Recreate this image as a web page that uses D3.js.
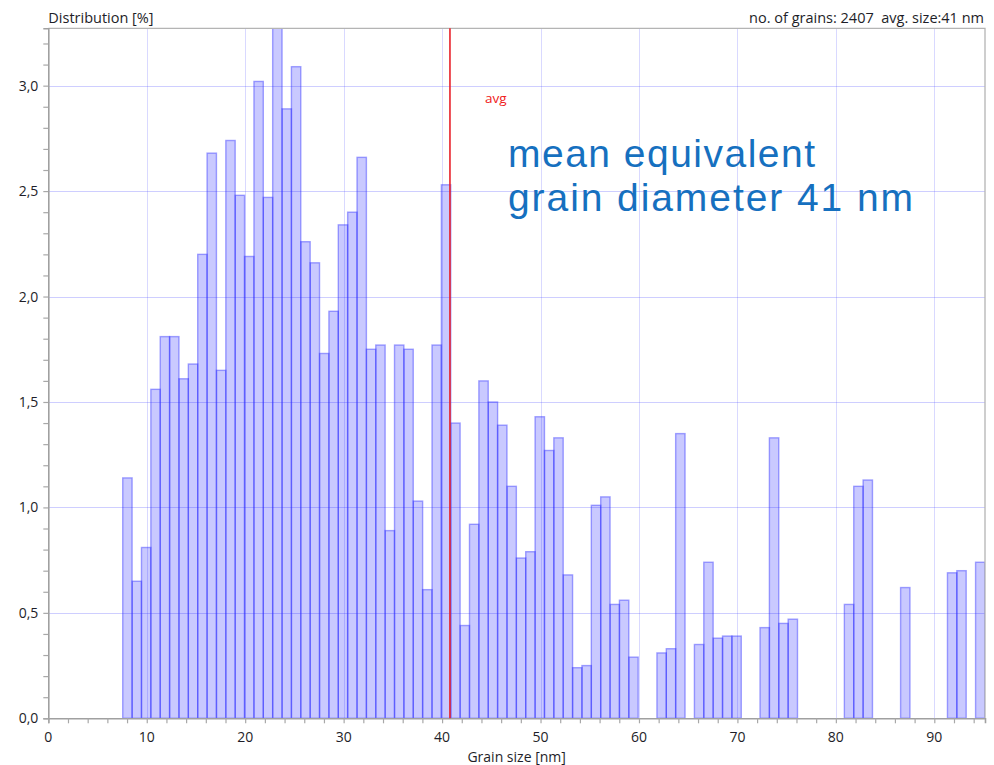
<!DOCTYPE html>
<html>
<head>
<meta charset="utf-8">
<script src="https://cdn.jsdelivr.net/npm/d3@7"></script>
<style>
  html, body { margin: 0; padding: 0; background: #fff; }
  svg { display: block; }
  text { font-family: "Open Sans", "DejaVu Sans", sans-serif; }
  text.note, text.note tspan { font-family: "Liberation Sans", Arial, sans-serif; }
</style>
</head>
<body>
<svg id="chart" width="994" height="765"></svg>
<script>
// ---- data ----
const binStart = 7.56;        // lower edge of first bin [nm]
const binWidth = 0.952;       // bin width [nm]
const distribution = [
  1.14, 0.65, 0.81, 1.56, 1.81, 1.81, 1.61, 1.68, 2.20, 2.68,
  1.65, 2.74, 2.48, 2.19, 3.02, 2.47, 3.28, 2.89, 3.09, 2.26,
  2.16, 1.73, 1.93, 2.34, 2.40, 2.66, 1.75, 1.77, 0.89, 1.77,
  1.75, 1.03, 0.61, 1.77, 2.53, 1.40, 0.44, 0.92, 1.60, 1.50,
  1.39, 1.10, 0.76, 0.79, 1.43, 1.27, 1.33, 0.68, 0.24, 0.25,
  1.01, 1.05, 0.54, 0.56, 0.29, 0, 0, 0.31, 0.33, 1.35,
  0, 0.35, 0.74, 0.38, 0.39, 0.39, 0, 0, 0.43, 1.33,
  0.45, 0.47, 0, 0, 0, 0, 0, 0.54, 1.10, 1.13,
  0, 0, 0, 0.62, 0, 0, 0, 0, 0.69, 0.70,
  0, 0.74
];
const avgSize = 40.8;
const xTicks = [0, 10, 20, 30, 40, 50, 60, 70, 80, 90];
const yTicks = [0, 0.5, 1.0, 1.5, 2.0, 2.5, 3.0];
const xMax = 95.15;
const yMax = 3.272;
const yLabel = "Distribution [%]";
const xLabel = "Grain size [nm]";
const infoText = "no. of grains: 2407  avg. size:41 nm";
const avgLabel = "avg";
const noteLines = ["mean equivalent", "grain diameter 41 nm"];

// ---- layout ----
const L = 48.3, R = 985, T = 28.3, B = 718.3;
const svg = d3.select("#chart");
const x = d3.scaleLinear().domain([0, xMax]).range([L, R]);
const y = d3.scaleLinear().domain([0, yMax]).range([B, T]);
const fmt = v => d3.format(".1f")(v).replace(".", ",");

svg.append("defs").append("clipPath").attr("id", "plotclip")
  .append("rect").attr("x", L).attr("y", T).attr("width", R - L).attr("height", B - T);

// gridlines
const grid = svg.append("g");
grid.selectAll("line.vg").data(xTicks.filter(d => d > 0)).join("line")
  .attr("x1", d => Math.round(x(d)) + 0.5).attr("x2", d => Math.round(x(d)) + 0.5)
  .attr("y1", T).attr("y2", B)
  .attr("stroke", "rgba(80,80,255,0.22)").attr("stroke-width", 1);
grid.selectAll("line.hg").data(yTicks.filter(d => d > 0)).join("line")
  .attr("x1", L).attr("x2", R)
  .attr("y1", d => Math.round(y(d)) + 0.5).attr("y2", d => Math.round(y(d)) + 0.5)
  .attr("stroke", "rgba(80,80,255,0.28)").attr("stroke-width", 1);

// bars
const bins = distribution.map((v, i) => ({ x0: binStart + i * binWidth, x1: binStart + (i + 1) * binWidth, v }));
svg.append("g").attr("clip-path", "url(#plotclip)")
  .selectAll("rect").data(bins.filter(d => d.v > 0)).join("rect")
  .attr("x", d => x(d.x0))
  .attr("y", d => y(d.v))
  .attr("width", d => x(d.x1) - x(d.x0))
  .attr("height", d => y(0) - y(d.v))
  .attr("fill", "rgba(0,0,255,0.21)")
  .attr("stroke", "rgba(40,40,255,0.42)")
  .attr("stroke-width", 1.4);

// frame (top & right)
svg.append("path")
  .attr("d", `M${L},${T}H${R}V${B}`)
  .attr("fill", "none").attr("stroke", "#b4b4b4").attr("stroke-width", 1.3);

// axes
const yAxis = d3.axisLeft(y).tickValues(d3.range(0, yMax + 1e-9, 0.1)).tickSize(5).tickFormat(() => "");
const yg = svg.append("g").attr("transform", `translate(${L},0)`).call(yAxis);
const xAxis = d3.axisBottom(x).tickValues(d3.range(0, xMax, 2)).tickSize(5).tickFormat(() => "");
const xg = svg.append("g").attr("transform", `translate(0,${B})`).call(xAxis);
[yg, xg].forEach(g => {
  g.select(".domain").attr("stroke", "#a0a0a0").attr("stroke-width", 1.6);
  g.selectAll(".tick line").attr("stroke", "#a8a8a8").attr("stroke-width", 1.2);
});
// y labels
svg.append("g").selectAll("text").data(yTicks).join("text")
  .attr("x", L - 10).attr("y", d => y(d) + 5)
  .attr("text-anchor", "end").attr("font-size", 14).attr("fill", "#1e1e28")
  .text(fmt);
// x labels
svg.append("g").selectAll("text").data(xTicks).join("text")
  .attr("x", d => x(d)).attr("y", 742)
  .attr("text-anchor", "middle").attr("font-size", 14).attr("fill", "#1e1e28")
  .text(d => d);

svg.append("text").attr("x", (L + R) / 2).attr("y", 762)
  .attr("text-anchor", "middle").attr("font-size", 14).attr("fill", "#1e1e28").text(xLabel);
svg.append("text").attr("x", L).attr("y", 23)
  .attr("font-size", 14.5).attr("fill", "#1e1e28").text(yLabel);
svg.append("text").attr("x", R - 1).attr("y", 23).attr("text-anchor", "end")
  .attr("font-size", 14.5).attr("fill", "#1e1e28").attr("xml:space", "preserve")
  .style("white-space", "pre").text(infoText);

// average line
svg.append("line")
  .attr("x1", x(avgSize)).attr("x2", x(avgSize)).attr("y1", T).attr("y2", B)
  .attr("stroke", "#e8202a").attr("stroke-width", 1.6);
svg.append("text").attr("x", x(avgSize) + 35).attr("y", 102.5)
  .attr("font-size", 13.5).attr("fill", "#f02020").text(avgLabel);

// annotation
const noteG = svg.append("g");
noteG.selectAll("text").data(noteLines).join("text")
  .attr("class", "note")
  .attr("x", 508).attr("y", (d, i) => 167 + i * 44)
  .attr("font-size", 39).attr("fill", "#1670bf")
  .attr("textLength", (d, i) => [307, 405][i]).attr("lengthAdjust", "spacing")
  .text(d => d);
</script>
</body>
</html>
